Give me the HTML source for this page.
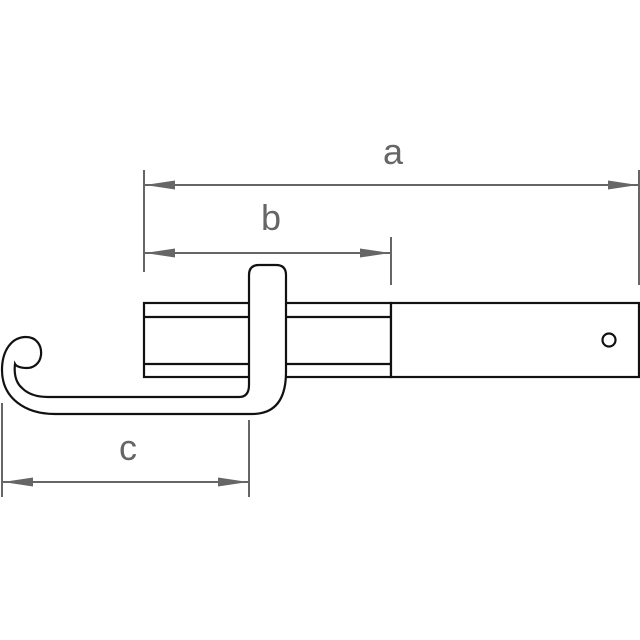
<!DOCTYPE html>
<html><head><style>body{margin:0;background:#fff}svg{display:block}</style></head><body>
<svg width="640" height="640" viewBox="0 0 640 640" xmlns="http://www.w3.org/2000/svg">
<defs>
<marker id="ar" viewBox="0 0 30 9" refX="30" refY="4.5" markerWidth="30" markerHeight="9" markerUnits="userSpaceOnUse" orient="auto-start-reverse"><path d="M0,0 L30,4.5 L0,9 Z" fill="#666"/></marker>
</defs>
<g stroke="#666" stroke-width="2" fill="none">
<line x1="144" y1="170" x2="144" y2="272"/>
<line x1="639" y1="170" x2="639" y2="285"/>
<line x1="391" y1="237" x2="391" y2="285"/>
<line x1="2" y1="403" x2="2" y2="497"/>
<line x1="249" y1="420" x2="249" y2="497"/>
<line x1="145" y1="185" x2="638" y2="185" marker-start="url(#ar)" marker-end="url(#ar)"/>
<line x1="145" y1="253" x2="390" y2="253" marker-start="url(#ar)" marker-end="url(#ar)"/>
<line x1="3" y1="482" x2="248" y2="482" marker-start="url(#ar)" marker-end="url(#ar)"/>
</g>
<g font-family="Liberation Sans, sans-serif" font-size="36" fill="#666" text-anchor="middle">
<text x="393" y="164">a</text>
<text x="271" y="230">b</text>
<text x="128" y="460">c</text>
</g>
<g stroke="#111" stroke-width="2.2" fill="none">
<rect x="144" y="303" width="247" height="74" fill="#fff"/>
<line x1="144" y1="317" x2="391" y2="317"/>
<line x1="144" y1="364" x2="391" y2="364"/>
<rect x="391" y="303" width="248" height="74" fill="#fff"/>
<circle cx="609" cy="340" r="6.5"/>
<path d="M249,275 Q249,265 259,265 L276,265 Q286,265 286,275 L286,372 Q286,414 252,414 L55,414 C25,414 2,398 2,370 C2,350 12,337 26,337 C36,337 42,345 41,355 C40,364 33,368 27,368 C20,368 16,366 15,364 C14,372 15,382 22,388 C28,394 36,397 48,397 L239,397 Q249,397 249,385 Z" fill="#fff"/>
</g>
</svg>
</body></html>
